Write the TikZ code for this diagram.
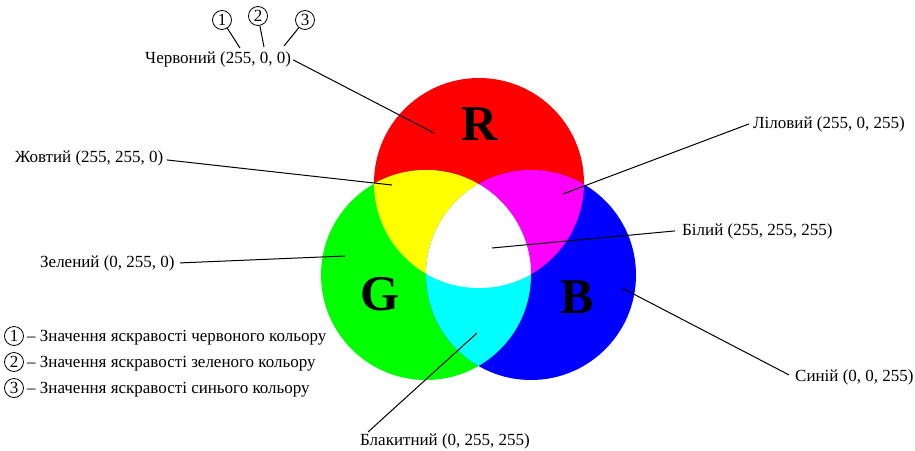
\documentclass[tikz,border=0pt]{standalone}
\usepackage{fontspec}
\setmainfont{Liberation Serif}
\definecolor{cR}{RGB}{255,0,0}
\definecolor{cG}{RGB}{0,255,0}
\definecolor{cB}{RGB}{0,0,255}
\definecolor{cY}{RGB}{255,255,0}
\definecolor{cM}{RGB}{255,0,255}
\definecolor{cC}{RGB}{0,255,255}
\begin{document}
\begin{tikzpicture}[x=1pt,y=-1pt,
  lbl/.style={font=\fontsize{17}{19}\selectfont, inner sep=0pt},
  num/.style={draw, circle, line width=0.8pt, inner sep=0pt, minimum size=19pt, font=\fontsize{17}{17}\selectfont},
  big/.style={font=\fontsize{50}{50}\selectfont\bfseries, inner sep=0pt},
  conn/.style={line width=1pt}]
\useasboundingbox (0,0) rectangle (915,450);
% circles
\coordinate (pR) at (479,183);
\coordinate (pG) at (426,275);
\coordinate (pB) at (531,275);
\fill[cR] (pR) circle (105pt);
\fill[cG] (pG) circle (105pt);
\fill[cB] (pB) circle (105pt);
\begin{scope}
  \clip (pR) circle (105pt);
  \fill[cY] (pG) circle (105pt);
  \fill[cM] (pB) circle (105pt);
\end{scope}
\begin{scope}
  \clip (pG) circle (105pt);
  \fill[cC] (pB) circle (105pt);
  \clip (pR) circle (105pt);
  \fill[white] (pB) circle (105pt);
\end{scope}
% big letters
\node[big] (LR) at (480,124) {R};
\node[big] (LG) at (380,294) {G};
\node[big] (LB) at (577,297) {B};
% points inside regions
\coordinate (tR) at (434,133);
\coordinate (tY) at (392,185);
\coordinate (tG) at (345,256);
\coordinate (tM) at (563,194);
\coordinate (tW) at (492,248);
\coordinate (tB) at (622,288);
\coordinate (tC) at (477,333);
% labels
\node[lbl, anchor=base west] (red) at (145,63) {Червоний (255, 0, 0)};
\node[lbl, anchor=base west] (yel) at (15,162) {Жовтий (255, 255, 0)};
\node[lbl, anchor=base west] (grn) at (40,267) {Зелений (0, 255, 0)};
\node[lbl, anchor=base west] (mag) at (753,128) {Ліловий (255, 0, 255)};
\node[lbl, anchor=base west] (wht) at (682,235) {Білий (255, 255, 255)};
\node[lbl, anchor=base west] (blu) at (795,381) {Синій (0, 0, 255)};
\node[lbl, anchor=base west] (cyn) at (360,445) {Блакитний (0, 255, 255)};
% connectors
\draw[conn] ([xshift=2pt,yshift=-1pt]red.east) -- (tR);
\draw[conn] ([xshift=3pt,yshift=-2pt]yel.east) -- (tY);
\draw[conn] ([xshift=5pt]grn.east) -- (tG);
\draw[conn] ([xshift=-4pt]mag.west) -- (tM);
\draw[conn] ([xshift=-7pt]wht.west) -- (tW);
\draw[conn] ([xshift=-6pt,yshift=2pt]blu.west) -- (tB);
\draw[conn] ([xshift=8pt,yshift=1pt]cyn.north west) -- (tC);
% circled numbers above red label
\node[num] (n1) at (222,20) {1};
\node[num] (n2) at (258,16) {2};
\node[num] (n3) at (305,20) {3};
\coordinate (d1) at (240,48);
\coordinate (d2) at (264,47);
\coordinate (d3) at (284,46);
\draw[conn] (n1) -- (d1);
\draw[conn] (n2) -- (d2);
\draw[conn] (n3) -- (d3);
% legend
\node[num] (k1) at (14,336) {1};
\node[num] (k2) at (14,362) {2};
\node[num] (k3) at (14,388) {3};
\node[lbl, anchor=base west] (t1) at (27,341) {– Значення яскравості червоного кольору};
\node[lbl, anchor=base west] (t2) at (27,367) {– Значення яскравості зеленого кольору};
\node[lbl, anchor=base west] (t3) at (27,393) {– Значення яскравості синього кольору};
\end{tikzpicture}
\end{document}
